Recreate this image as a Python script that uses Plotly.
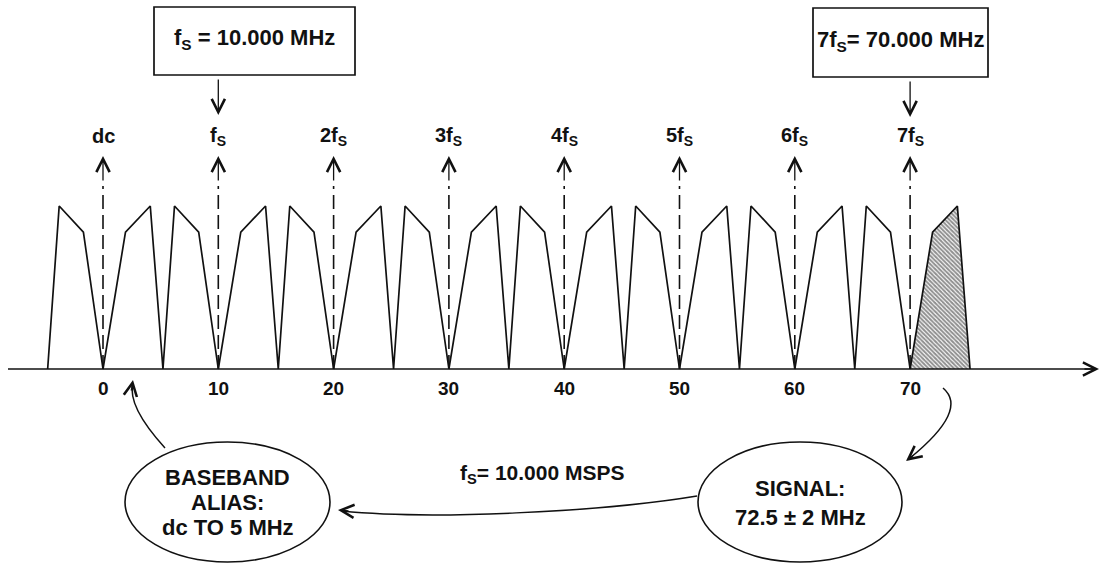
import plotly.graph_objects as go

# ---------------- data ----------------
fs_multiples = [0, 10, 20, 30, 40, 50, 60, 70]
fs_labels = ["dc", "f<sub>S</sub>", "2f<sub>S</sub>", "3f<sub>S</sub>", "4f<sub>S</sub>",
             "5f<sub>S</sub>", "6f<sub>S</sub>", "7f<sub>S</sub>"]
tick_values = [0, 10, 20, 30, 40, 50, 60, 70]
tick_labels = ["0", "10", "20", "30", "40", "50", "60", "70"]
# shape of one spectral image (MHz offset from multiple of fs, relative level)
upright_offsets = [0.0, 1.95, 4.1, 5.2]
upright_levels = [0.0, 0.84, 1.0, 0.0]
mirror_offsets = [-4.8, -3.8, -1.7, 0.0]
mirror_levels = [0.0, 1.0, 0.84, 0.0]
signal_zone_start = 70
box_texts = ["f<sub>S</sub> = 10.000 MHz", "7f<sub>S</sub>= 70.000 MHz"]
box_targets = [10, 70]
rate_text = "f<sub>S</sub>= 10.000 MSPS"
baseband_lines = ["BASEBAND", "ALIAS:", "dc TO 5 MHz"]
signal_lines = ["SIGNAL:", "72.5 ± 2 MHz"]

# ---------------- layout helpers (pixel -> axis units) ----------------
W, H = 1101, 564
X0_PX, PX_PER_MHZ = 103.0, 11.53
BASE_PX, PX_PER_LEVEL = 369.0, 163.0


def X(px):
    return (px - X0_PX) / PX_PER_MHZ


def Y(py):
    return (BASE_PX - py) / PX_PER_LEVEL


FONT = "Liberation Sans, Arial, Helvetica, sans-serif"
INK = "#111111"


def bold(t):
    return f"<b>{t}</b>"


# ---------------- spectrum polyline ----------------
spec_x, spec_y = [], []
for m in fs_multiples:
    for o, l in zip(mirror_offsets, mirror_levels):
        spec_x.append(m + o)
        spec_y.append(l)
    if m < signal_zone_start:
        for o, l in zip(upright_offsets[1:], upright_levels[1:]):
            spec_x.append(m + o)
            spec_y.append(l)

sig_x = [signal_zone_start + o for o in upright_offsets]
sig_y = list(upright_levels)

fig = go.Figure()
fig.add_trace(go.Scatter(x=spec_x, y=spec_y, mode="lines",
                         line=dict(color=INK, width=1.7), hoverinfo="skip"))
fig.add_trace(go.Scatter(x=sig_x, y=sig_y, mode="lines", fill="toself",
                         line=dict(color=INK, width=1.7),
                         fillcolor="rgba(0,0,0,0)",
                         fillpattern=dict(shape="\\", size=3, solidity=0.65,
                                          fgcolor="#222222", bgcolor="white"),
                         hoverinfo="skip"))

shapes = []
annotations = []
ARW = dict(arrowhead=5, arrowsize=2.0, arrowwidth=1.3, arrowcolor=INK)

# horizontal frequency axis
shapes.append(dict(type="line", xref="x", yref="y", x0=X(8), x1=X(1097), y0=0, y1=0,
                   line=dict(color=INK, width=1.7)))
annotations.append(dict(x=X(1099), y=0, xref="x", yref="y", text="", showarrow=True,
                        ax=-16, ay=0, **ARW))

# tick labels
for v, t in zip(tick_values, tick_labels):
    annotations.append(dict(x=v, y=Y(388), xref="x", yref="y", text=bold(t), showarrow=False,
                            font=dict(family=FONT, size=19, color=INK)))

# dashed markers at multiples of fs with arrow and label
for m, lab in zip(fs_multiples, fs_labels):
    shapes.append(dict(type="line", xref="x", yref="y", x0=m, x1=m, y0=0, y1=Y(186),
                       line=dict(color=INK, width=1.6, dash="14px,6px")))
    annotations.append(dict(x=m, y=Y(156), xref="x", yref="y", text="", showarrow=True,
                            ax=0, ay=26, **ARW))
    annotations.append(dict(x=m, y=Y(136), xref="x", yref="y", text=bold(lab), showarrow=False,
                            font=dict(family=FONT, size=20, color=INK)))

# boxes at top
box_px = [(154, 355, 7, 75), (813, 988, 8, 77)]
for (x0, x1, y0, y1), txt, tgt in zip(box_px, box_texts, box_targets):
    shapes.append(dict(type="rect", xref="x", yref="y", x0=X(x0), x1=X(x1),
                       y0=Y(y1), y1=Y(y0), line=dict(color=INK, width=1.7)))
    annotations.append(dict(x=X((x0 + x1) / 2), y=Y((y0 + y1) / 2 - 2), xref="x", yref="y",
                            text=bold(txt), showarrow=False,
                            font=dict(family=FONT, size=22, color=INK)))
    annotations.append(dict(x=tgt, y=Y(y1 + 40), xref="x", yref="y", text="", showarrow=True,
                            ax=0, ay=-37, **ARW))

# ellipses
ell = [(125, 330, 442, 562, baseband_lines, [477, 502, 527]),
       (698, 902, 442, 562, signal_lines, [488, 517])]
for x0, x1, y0, y1, lines, ys in ell:
    shapes.append(dict(type="circle", xref="x", yref="y", x0=X(x0), x1=X(x1),
                       y0=Y(y1), y1=Y(y0), line=dict(color=INK, width=1.6)))
    for ln, yy in zip(lines, ys):
        annotations.append(dict(x=X((x0 + x1) / 2), y=Y(yy), xref="x", yref="y",
                                text=bold(ln), showarrow=False,
                                font=dict(family=FONT, size=22, color=INK)))


def path(*pts, cmd="Q"):
    p0 = pts[0]
    rest = " ".join(f"{X(a):.4f},{Y(b):.4f}" for a, b in pts[1:])
    return f"M {X(p0[0]):.4f},{Y(p0[1]):.4f} {cmd} {rest}"


# curved arrows
shapes.append(dict(type="path", xref="x", yref="y",
                   path=path((165, 448), (127, 406), (133, 384)),
                   line=dict(color=INK, width=1.5)))
annotations.append(dict(x=X(133), y=Y(380), xref="x", yref="y", text="", showarrow=True,
                        ax=-2, ay=12, **ARW))

shapes.append(dict(type="path", xref="x", yref="y",
                   path=path((943, 388), (969, 410), (910, 458)),
                   line=dict(color=INK, width=1.5)))
annotations.append(dict(x=X(906), y=Y(461), xref="x", yref="y", text="", showarrow=True,
                        ax=9, ay=-7, **ARW))

shapes.append(dict(type="path", xref="x", yref="y",
                   path=path((697, 496), (600, 512), (430, 520), (342, 511), cmd="C"),
                   line=dict(color=INK, width=1.5)))
annotations.append(dict(x=X(338), y=Y(510), xref="x", yref="y", text="", showarrow=True,
                        ax=12, ay=1, **ARW))

# sampling-rate label
annotations.append(dict(x=X(458), y=Y(474), xref="x", yref="y", text=bold(rate_text),
                        showarrow=False, xanchor="left",
                        font=dict(family=FONT, size=21, color=INK)))

fig.update_layout(
    width=W, height=H, autosize=False,
    margin=dict(l=0, r=0, t=0, b=0),
    paper_bgcolor="white", plot_bgcolor="white",
    showlegend=False,
    xaxis=dict(visible=False, range=[X(0), X(W)], fixedrange=True),
    yaxis=dict(visible=False, range=[Y(H), Y(0)], fixedrange=True),
    shapes=shapes, annotations=annotations,
)

fig.write_html("out.html")
